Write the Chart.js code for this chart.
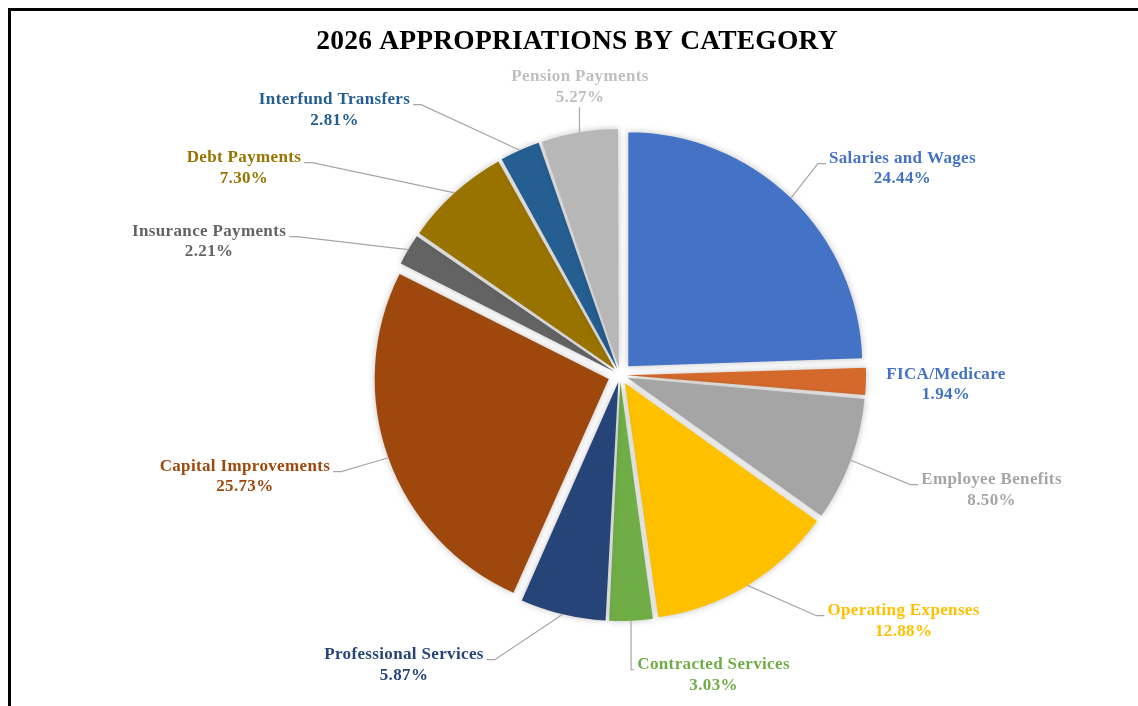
<!DOCTYPE html>
<html lang="en">
<head>
<meta charset="UTF-8">
<title>2026 Appropriations by Category</title>
<script src="https://cdn.jsdelivr.net/npm/chart.js@4/dist/chart.umd.min.js"></script>
<style>
  html, body { margin: 0; padding: 0; background: #fff; overflow: hidden; }
  .frame { position: absolute; left: 8px; top: 8px; width: 1200px; height: 800px; border: 3px solid #000; box-sizing: border-box; }
  #chart { position: absolute; left: 0; top: 0; }
</style>
</head>
<body>
<div class="frame"></div>
<canvas id="chart" width="1138" height="706"></canvas>
<script>
const chartTitle = '2026 APPROPRIATIONS BY CATEGORY';

const categories = [
  'Salaries and Wages', 'FICA/Medicare', 'Employee Benefits', 'Operating Expenses',
  'Contracted Services', 'Professional Services', 'Capital Improvements',
  'Insurance Payments', 'Debt Payments', 'Interfund Transfers', 'Pension Payments'
];
const shares = [24.44, 1.94, 8.50, 12.88, 3.03, 5.87, 25.73, 2.21, 7.30, 2.81, 5.27];

const sliceColors = [
  '#4472C4', '#D36A2B', '#A5A5A5', '#FFC000', '#70AD47', '#264478',
  '#9E480E', '#636363', '#997300', '#255E91', '#B7B7B7'
];
const labelColors = [
  '#4472C4', '#4472C4', '#A5A5A5', '#FFC000', '#70AD47', '#264478',
  '#9E480E', '#636363', '#997300', '#255E91', '#BFBFBF'
];

// where each label block sits, in pie radii from the pie centre
const labelSpots = [
  [1.207, -0.881], [1.393, 0.042], [1.588, 0.491], [1.212, 1.051],
  [0.400, 1.282], [-0.923, 1.239], [-1.603, 0.435], [-1.756, -0.569],
  [-1.607, -0.885], [-1.220, -1.133], [-0.171, -1.231]
];

const EXPLODE = 12;      // px each slice is pulled out
const LINE_H = 20.5;
const LABEL_FONT = 'bold 17px "Liberation Serif", "Times New Roman", serif';
const total = shares.reduce((a, b) => a + b, 0);

// Chart.js moves an arc by offset/4 * (1 + fix); undo that so every slice moves EXPLODE px
function explodeOffset(ctx) {
  const circ = (ctx.parsed / total) * Math.PI * 2;
  const fix = 1 - Math.sin(Math.min(Math.PI, circ));
  return 4 * EXPLODE / (1 + fix);
}

const sliceShadow = {
  id: 'sliceShadow',
  beforeDatasetsDraw(chart) {
    const c = chart.ctx;
    c.save();
    c.shadowColor = 'rgba(0,0,0,0.25)';
    c.shadowBlur = 7;
  },
  afterDatasetsDraw(chart) {
    chart.ctx.restore();
  }
};

const titleText = {
  id: 'titleText',
  afterDraw(chart) {
    const c = chart.ctx;
    c.save();
    c.font = 'bold 27.5px "Liberation Serif", "Times New Roman", serif';
    c.letterSpacing = '0.2px';
    c.fillStyle = '#000';
    c.textAlign = 'center';
    c.textBaseline = 'alphabetic';
    c.fillText(chartTitle, 577, 49);
    c.restore();
  }
};

const pieLabels = {
  id: 'pieLabels',
  afterDatasetsDraw(chart) {
    const c = chart.ctx;
    const arcs = chart.getDatasetMeta(0).data;
    c.save();
    c.font = LABEL_FONT;
    c.letterSpacing = '0.35px';
    c.textAlign = 'center';
    c.textBaseline = 'middle';
    arcs.forEach((arc, i) => {
      const r = arc.outerRadius;
      const mid = (arc.startAngle + arc.endAngle) / 2;
      const ax = arc.x + Math.cos(mid) * (r + EXPLODE);
      const ay = arc.y + Math.sin(mid) * (r + EXPLODE);
      const cx = arc.x + labelSpots[i][0] * r;
      const cy = arc.y + labelSpots[i][1] * r;
      const name = categories[i];
      const pct = shares[i].toFixed(2) + '%';
      const w = c.measureText(name).width;
      const y1 = cy - LINE_H / 2;
      const y2 = cy + LINE_H / 2;
      const left = cx - w / 2;
      const right = cx + w / 2;

      // leader line
      let pts = null;
      if (ax >= left && ax <= right) {
        const ey = ay > cy ? y2 + 10 : y1 - 10;
        pts = [[ax, ay], [ax, ey]];
      } else {
        const side = ax < left ? left - 3 : right + 3;
        const stub = ax < left ? Math.max(side - 8, ax) : Math.min(side + 8, ax);
        const ly = y1 + 5;
        if (Math.hypot(side - ax, ly - ay) > 35) pts = [[ax, ay], [stub, ly], [side, ly]];
      }
      if (pts) {
        c.beginPath();
        c.moveTo(pts[0][0], pts[0][1]);
        for (let k = 1; k < pts.length; k++) c.lineTo(pts[k][0], pts[k][1]);
        c.strokeStyle = '#A6A6A6';
        c.lineWidth = 1.2;
        c.stroke();
      }

      c.fillStyle = labelColors[i];
      c.fillText(name, cx, y1);
      c.fillText(pct, cx, y2);
    });
    c.restore();
  }
};

new Chart(document.getElementById('chart'), {
  type: 'pie',
  data: {
    labels: categories,
    datasets: [{
      data: shares,
      backgroundColor: sliceColors,
      borderWidth: 0,
      offset: explodeOffset
    }]
  },
  options: {
    responsive: false,
    animation: false,
    events: [],
    radius: 234,
    layout: { padding: { left: 200, right: 98, top: 104, bottom: 60 } },
    plugins: {
      legend: { display: false },
      tooltip: { enabled: false },
      title: { display: false, text: chartTitle }
    }
  },
  plugins: [sliceShadow, pieLabels, titleText]
});
</script>
</body>
</html>
